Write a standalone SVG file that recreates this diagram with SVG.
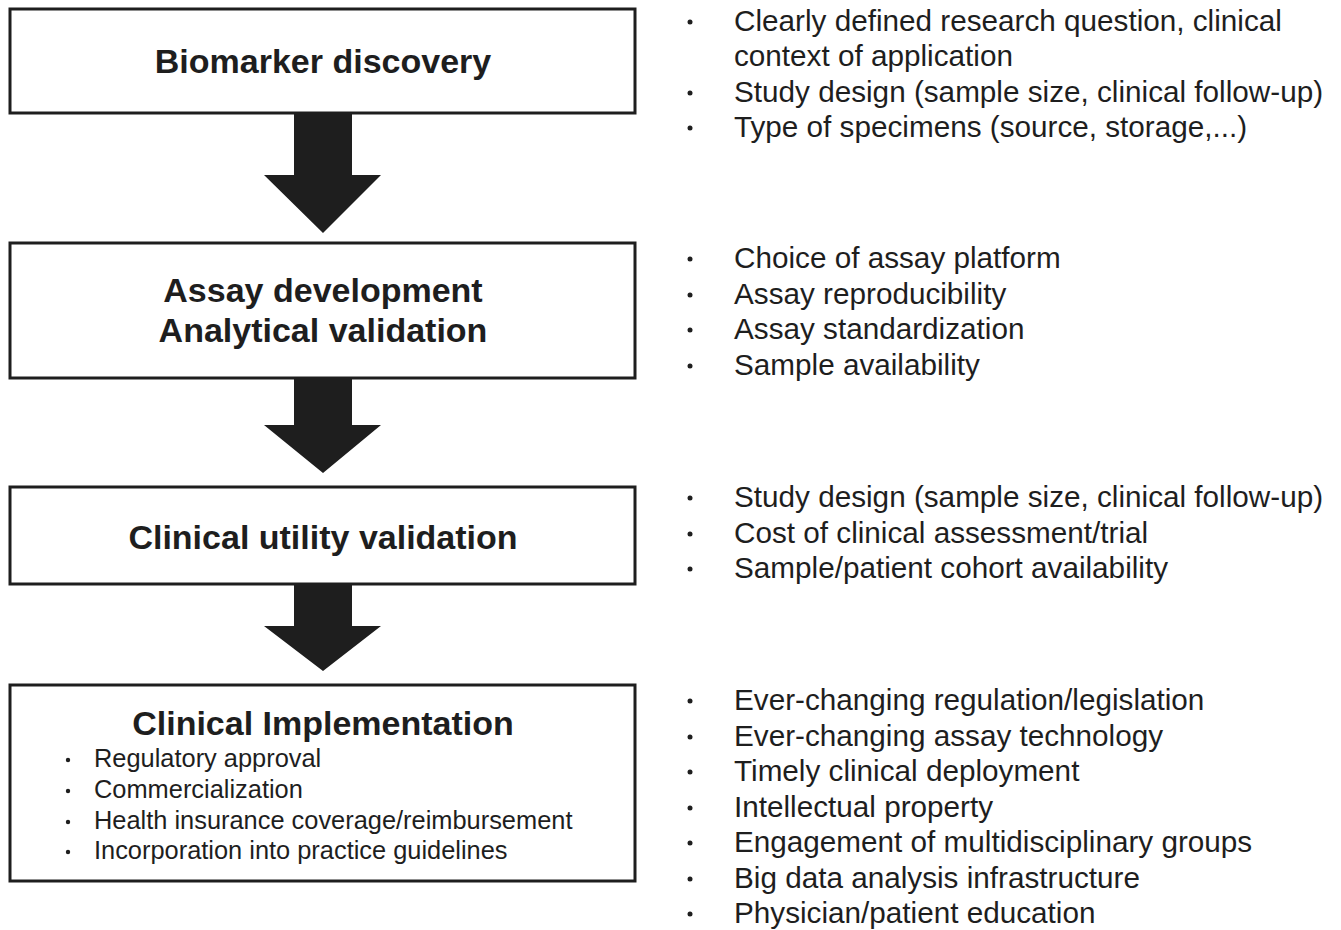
<svg xmlns="http://www.w3.org/2000/svg" width="1341" height="930" viewBox="0 0 1341 930">
<style>
.box{fill:#fff;stroke:#1e1e1e;stroke-width:3}
.t{font-family:"Liberation Sans",Arial,sans-serif;font-weight:bold;font-size:34px;fill:#1e1e1e;text-anchor:middle}
.s{font-family:"Liberation Sans",Arial,sans-serif;font-size:25.4px;fill:#1e1e1e}
.r{font-family:"Liberation Sans",Arial,sans-serif;font-size:29.7px;fill:#1e1e1e}
.b{fill:#1e1e1e}
.arr{fill:#1e1e1e}
</style>
<rect width="1341" height="930" fill="#fff"/>
<g id="connectors">
<polygon class="arr" points="294,113 352,113 352,175 381,175 323,233 264,175 294,175"/>
<polygon class="arr" points="294,378 352,378 352,425 381,425 323,473 264,425 294,425"/>
<polygon class="arr" points="294,584 352,584 352,626 381,626 323,671 264,626 294,626"/>
</g>
<g id="node1">
<rect class="box" x="10" y="9" width="625" height="104"/>
<text class="t" x="323" y="73">Biomarker discovery</text>
</g>
<g id="node2">
<rect class="box" x="10" y="243" width="625" height="135"/>
<text class="t" x="323" y="302">Assay development</text>
<text class="t" x="323" y="342">Analytical validation</text>
</g>
<g id="node3">
<rect class="box" x="10" y="487" width="625" height="97"/>
<text class="t" x="323" y="549">Clinical utility validation</text>
</g>
<g id="node4">
<rect class="box" x="10" y="685" width="625" height="196"/>
<text class="t" x="323" y="735">Clinical Implementation</text>
<circle class="b" cx="68" cy="760" r="2.2"/><text class="s" x="94" y="767">Regulatory approval</text>
<circle class="b" cx="68" cy="791" r="2.2"/><text class="s" x="94" y="798">Commercialization</text>
<circle class="b" cx="68" cy="822" r="2.2"/><text class="s" x="94" y="829">Health insurance coverage/reimbursement</text>
<circle class="b" cx="68" cy="852" r="2.2"/><text class="s" x="94" y="859">Incorporation into practice guidelines</text>
</g>
<g id="notes1">
<circle class="b" cx="690" cy="22" r="2.5"/><text class="r" x="734" y="31">Clearly defined research question, clinical</text>
<text class="r" x="734" y="66">context of application</text>
<circle class="b" cx="690" cy="93" r="2.5"/><text class="r" x="734" y="102">Study design (sample size, clinical follow-up)</text>
<circle class="b" cx="690" cy="128" r="2.5"/><text class="r" x="734" y="137">Type of specimens (source, storage,...)</text>
</g>
<g id="notes2">
<circle class="b" cx="690" cy="259" r="2.5"/><text class="r" x="734" y="268">Choice of assay platform</text>
<circle class="b" cx="690" cy="295" r="2.5"/><text class="r" x="734" y="304">Assay reproducibility</text>
<circle class="b" cx="690" cy="330" r="2.5"/><text class="r" x="734" y="339">Assay standardization</text>
<circle class="b" cx="690" cy="366" r="2.5"/><text class="r" x="734" y="375">Sample availability</text>
</g>
<g id="notes3">
<circle class="b" cx="690" cy="498" r="2.5"/><text class="r" x="734" y="507">Study design (sample size, clinical follow-up)</text>
<circle class="b" cx="690" cy="534" r="2.5"/><text class="r" x="734" y="543">Cost of clinical assessment/trial</text>
<circle class="b" cx="690" cy="569" r="2.5"/><text class="r" x="734" y="578">Sample/patient cohort availability</text>
</g>
<g id="notes4">
<circle class="b" cx="690" cy="701" r="2.5"/><text class="r" x="734" y="710">Ever-changing regulation/legislation</text>
<circle class="b" cx="690" cy="737" r="2.5"/><text class="r" x="734" y="746">Ever-changing assay technology</text>
<circle class="b" cx="690" cy="772" r="2.5"/><text class="r" x="734" y="781">Timely clinical deployment</text>
<circle class="b" cx="690" cy="808" r="2.5"/><text class="r" x="734" y="817">Intellectual property</text>
<circle class="b" cx="690" cy="843" r="2.5"/><text class="r" x="734" y="852">Engagement of multidisciplinary groups</text>
<circle class="b" cx="690" cy="879" r="2.5"/><text class="r" x="734" y="888">Big data analysis infrastructure</text>
<circle class="b" cx="690" cy="914" r="2.5"/><text class="r" x="734" y="923">Physician/patient education</text>
</g>
</svg>
